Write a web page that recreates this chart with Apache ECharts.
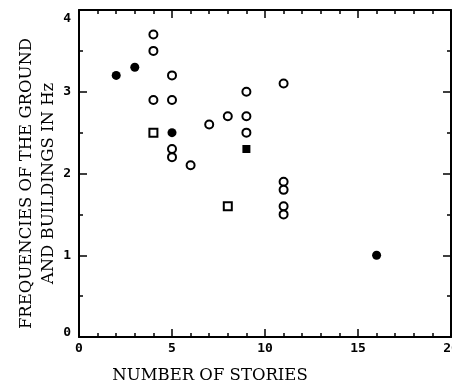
<!DOCTYPE html>
<html><head><meta charset="utf-8">
<script src="https://cdn.jsdelivr.net/npm/echarts@6/dist/echarts.min.js"></script>
<style>html,body{margin:0;padding:0;background:#fff}#c{width:452px;height:387px}</style>
</head><body><div id="c"></div>
<script>
// Data: [stories, frequency Hz]
const filledCircles = [[2,3.2],[3,3.3],[5,2.5],[16,1.0]];
const openCircles = [[4,3.7],[4,3.5],[4,2.9],[5,3.2],[5,2.9],[5,2.3],[5,2.2],[6,2.1],[7,2.6],[8,2.7],[9,3.0],[9,2.7],[9,2.5],[11,3.1],[11,1.9],[11,1.8],[11,1.6],[11,1.5]];
const openSquares = [[4,2.5],[8,1.6]];
const filledSquares = [[9,2.3]];
const xTitle = 'NUMBER OF STORIES';
const yTitle = 'FREQUENCIES OF THE GROUND\nAND BUILDINGS IN Hz';

const chart = echarts.init(document.getElementById('c'), null, {renderer:'canvas'});
const tickFont = {fontFamily:'DejaVu Sans Mono', fontWeight:'bold', fontSize:13, color:'#000'};
const titleFont = {fontFamily:'DejaVu Serif', fontSize:16.5, color:'#000'};
const axisLine = {show:true, onZero:false, lineStyle:{color:'#000', width:2}};
const tick = {show:true, inside:true, length:8, lineStyle:{color:'#000', width:1.5}};
chart.setOption({
  animation:false,
  backgroundColor:'#fff',
  grid:{left:79, right:1, top:10, bottom:50, containLabel:false, outerBoundsMode:'none'},
  xAxis:[{
    type:'value', min:0, max:20, interval:5, position:'bottom',
    axisLine:axisLine, axisTick:tick,
    minorTick:{show:true, splitNumber:5, length:4, lineStyle:{color:'#000', width:1.5}},
    splitLine:{show:false},
    axisLabel:Object.assign({margin:5}, tickFont),
    name:xTitle, nameLocation:'middle', nameGap:30, nameMoveOverlap:false,
    nameTextStyle:Object.assign({padding:[0,110,0,0]}, titleFont)
  },{
    type:'value', min:0, max:20, interval:5, position:'top',
    axisLine:axisLine, axisTick:tick,
    minorTick:{show:true, splitNumber:5, length:4, lineStyle:{color:'#000', width:1.5}},
    splitLine:{show:false}, axisLabel:{show:false}
  }],
  yAxis:[{
    type:'value', min:0, max:4, interval:1, position:'left',
    axisLine:axisLine, axisTick:tick,
    minorTick:{show:true, splitNumber:2, length:4, lineStyle:{color:'#000', width:1.5}},
    splitLine:{show:false},
    axisLabel:Object.assign({margin:8,
      formatter:function(v){ return v===4 ? '{t|4}' : (v===0 ? '{b|0}' : String(v)); },
      rich:{
        t:Object.assign({padding:[18,0,0,0]}, tickFont),
        b:Object.assign({padding:[0,0,8,0]}, tickFont)
      }}, tickFont),
    name:yTitle, nameLocation:'middle', nameGap:19, nameRotate:90, nameMoveOverlap:false,
    nameTextStyle:Object.assign({lineHeight:22, align:'center', padding:[0,20,0,0]}, titleFont)
  },{
    type:'value', min:0, max:4, interval:1, position:'right',
    axisLine:axisLine, axisTick:tick,
    minorTick:{show:true, splitNumber:2, length:4, lineStyle:{color:'#000', width:1.5}},
    splitLine:{show:false}, axisLabel:{show:false}
  }],
  series:[
    {type:'scatter', data:filledCircles, symbol:'circle', symbolSize:9, itemStyle:{color:'#000', opacity:1}},
    {type:'scatter', data:openCircles, symbol:'circle', symbolSize:8, itemStyle:{color:'#fff', borderColor:'#000', borderWidth:2, opacity:1}},
    {type:'scatter', data:openSquares, symbol:'rect', symbolSize:8, itemStyle:{color:'#fff', borderColor:'#000', borderWidth:2, opacity:1}},
    {type:'scatter', data:filledSquares, symbol:'rect', symbolSize:8, itemStyle:{color:'#000', opacity:1}}
  ]
});
</script></body></html>
